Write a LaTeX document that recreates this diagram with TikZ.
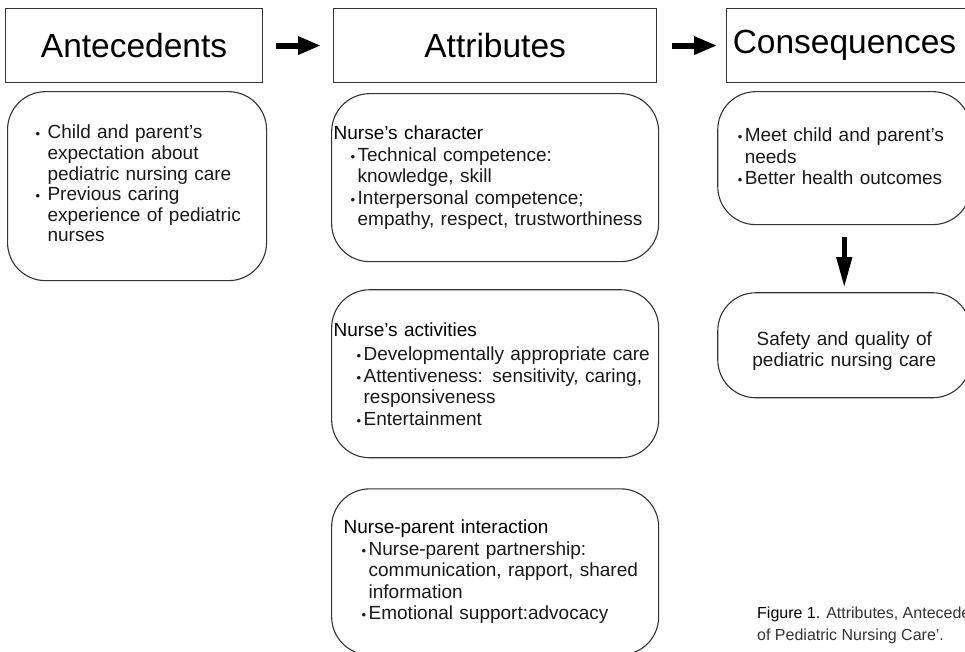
\documentclass[tikz,border=0pt]{standalone}
\usepackage{fontspec}
\setmainfont{Liberation Sans}
\usetikzlibrary{arrows.meta,positioning}

\newcommand\bulsym{{\fontsize{13}{13}\selectfont\textbullet}}
\newcommand\bitem[1][7pt]{\par\hangindent=#1\hangafter=1\noindent\makebox[#1][l]{\bulsym}}

\begin{document}
\begin{tikzpicture}
  [
    x=1pt, y=1pt,
    head/.style={rectangle,draw=black!80,line width=1.1pt,minimum height=74pt,inner sep=0pt,font=\fontsize{33.5}{40}\selectfont},
    rbox/.style={rectangle,rounded corners=38pt,draw=black!80,line width=1.1pt,inner ysep=0pt,align=left,font=\fontsize{19}{21.5}\selectfont,text=black!90},
    flow/.style={line width=6pt,-{Triangle[length=23pt,width=17pt]}},
    down/.style={line width=4.5pt,-{Triangle[length=30pt,width=15pt]}}
  ]
  \useasboundingbox (0,0) rectangle (965,-652);
  \clip (0,0) rectangle (965,-652);
  % headings
  \node[head,minimum width=257pt,anchor=north west] (ante) at (5,-8) {Antecedents};
  \node[head,minimum width=323pt] (attr) [right=70pt of ante] {Attributes};
  \node[head,text width=240pt,align=left,inner xsep=6pt] (cons) [right=69pt of attr] {Consequences};
  \draw[flow,shorten <=13pt,shorten >=12pt] (ante) -- (attr);
  \draw[flow,shorten <=15pt,shorten >=9pt] (attr) -- (cons);
  % antecedents
  \node[rbox,minimum width=259pt,minimum height=189pt,text width=219pt,inner xsep=20pt,
        font=\fontsize{19}{20.6}\selectfont] (expect)
    [below right=8pt and 2pt of ante.south west]
    {\leftskip=8pt
     \bitem[12pt]Child and parent’s\newline expectation about\newline pediatric nursing care
     \bitem[12pt]Previous caring\newline experience of pediatric\newline nurses\par\vspace*{12pt}};
  % attributes
  \node[rbox,minimum height=168pt,text width=323pt,inner xsep=2pt] (character) [below=10pt of attr]
    {{\color{black}Nurse’s character}\par\leftskip=17pt
     \bitem Technical competence:\newline knowledge, skill
     \bitem Interpersonal competence;\newline empathy, respect, trustworthiness\par};
  \node[rbox,minimum height=168pt,text width=323pt,inner xsep=2pt] (activities) [below=27pt of character]
    {{\color{black}Nurse’s activities}\par\vspace*{3pt}\leftskip=23pt
     \bitem Developmentally appropriate care
     \bitem Attentiveness: sensitivity, caring,\newline responsiveness
     \bitem Entertainment\par};
  \node[rbox,minimum height=166pt,text width=303pt,inner xsep=12pt] (interaction) [below=30pt of activities]
    {{\color{black}Nurse-parent interaction}\par\leftskip=18pt
     \bitem Nurse-parent partnership:\newline communication, rapport, shared\newline information
     \bitem Emotional support:advocacy\par};
  % consequences
  \node[rbox,minimum width=253pt,minimum height=133pt,text width=213pt,inner xsep=20pt] (needs)
    [below=8pt of cons.south west,anchor=north west,xshift=-9pt]
    {\bitem Meet child and parent’s\newline needs
     \bitem Better health outcomes\par\vspace*{11pt}};
  \node[rbox,minimum width=253pt,minimum height=105pt,text width=213pt,align=center] (safety) [below=67pt of needs]
    {Safety and quality of\\ pediatric nursing care\par\vspace*{-12pt}};
  \draw[down,shorten <=12pt,shorten >=5pt] (needs) -- (safety);
  % caption
  \node[anchor=north west,inner sep=0pt,align=left,font=\fontsize{16}{22}\selectfont,text=black!80] (caption) at (757,-607)
    {{\color{black}Figure 1.} Attributes, Antecede\\of Pediatric Nursing Care’.};
\end{tikzpicture}
\end{document}
